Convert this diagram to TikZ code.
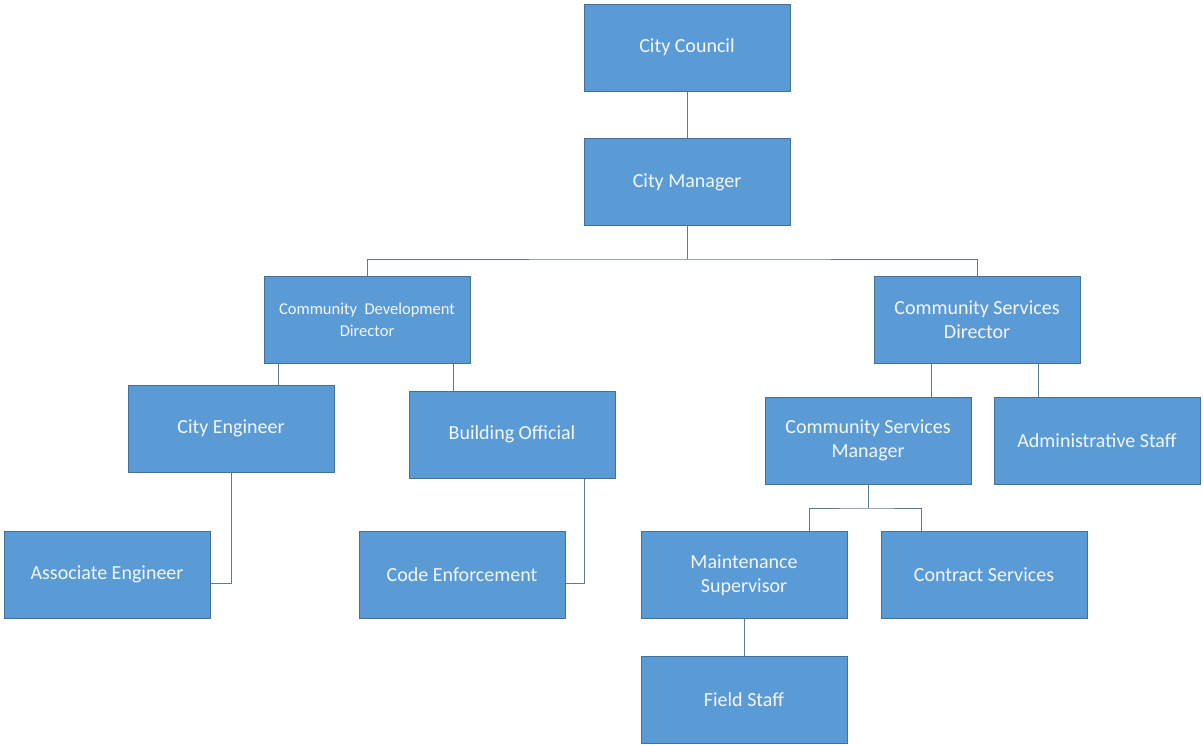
\documentclass[tikz,border=0pt]{standalone}
\usepackage{fontspec}
\setmainfont{Carlito}
\definecolor{boxfill}{HTML}{5B9BD5}
\definecolor{boxline}{HTML}{41719C}
\definecolor{conn}{HTML}{5A7A96}
\definecolor{txt}{HTML}{F2F6FB}
\begin{document}
\begin{tikzpicture}[x=1pt,y=-1pt,
  orgbox/.style={draw=boxline,fill=boxfill,line width=1pt,minimum width=206pt,minimum height=87pt,
    inner sep=0pt,align=center,text=txt,font=\fontsize{20}{24}\selectfont},
  small/.style={font=\fontsize{16.5}{22}\selectfont},
  link/.style={draw=conn,line width=1pt}]
\useasboundingbox (0,0) rectangle (1203,745);
\node[orgbox] (cc) at (687,47.5) {City Council};
\node[orgbox] (cm) at (687,182) {City Manager};
\node[orgbox,small] (cdd) at (367,319.5) {Community\ \ Development\\Director};
\node[orgbox] (csd) at (977,320) {Community Services\\Director};
\node[orgbox] (ce) at (231,428.5) {City Engineer};
\node[orgbox] (bo) at (512,434.5) {Building Official};
\node[orgbox] (csm) at (868,440.5) {Community Services\\Manager};
\node[orgbox] (adm) at (1097,440.5) {Administrative Staff};
\node[orgbox] (ae) at (107,574.5) {Associate Engineer};
\node[orgbox] (code) at (462,574.5) {Code Enforcement};
\node[orgbox] (ms) at (744,575) {Maintenance\\Supervisor};
\node[orgbox] (cs) at (984,575) {Contract Services};
\node[orgbox] (fs) at (744,700) {Field Staff};
\coordinate (j1) at (687,259);
\coordinate (j2) at (868,508);
\draw[link] (cc.south) -- (cm.north);
\draw[link] (cm.south) -- (j1);
\draw[link] (cdd.north) |- (j1) -| (csd.north);
\draw[link] ([xshift=15pt]cdd.south west) -- ([xshift=15pt]cdd.south west |- ce.north);
\draw[link] ([xshift=-17pt]cdd.south east) -- ([xshift=-17pt]cdd.south east |- bo.north);
\draw[link] (ce.south) |- ([yshift=-9pt]ae.east);
\draw[link] ([xshift=-31pt]bo.south east) |- ([yshift=-9pt]code.east);
\draw[link] ([xshift=58pt]csd.south west) -- ([xshift=58pt]csd.south west |- csm.north);
\draw[link] ([xshift=-42pt]csd.south east) -- ([xshift=-42pt]csd.south east |- adm.north);
\draw[link] (csm.south) -- (j2);
\draw[link] ([xshift=65pt]ms.north) |- (j2) -| ([xshift=-63pt]cs.north);
\draw[link] (ms.south) -- (fs.north);
\end{tikzpicture}
\end{document}
